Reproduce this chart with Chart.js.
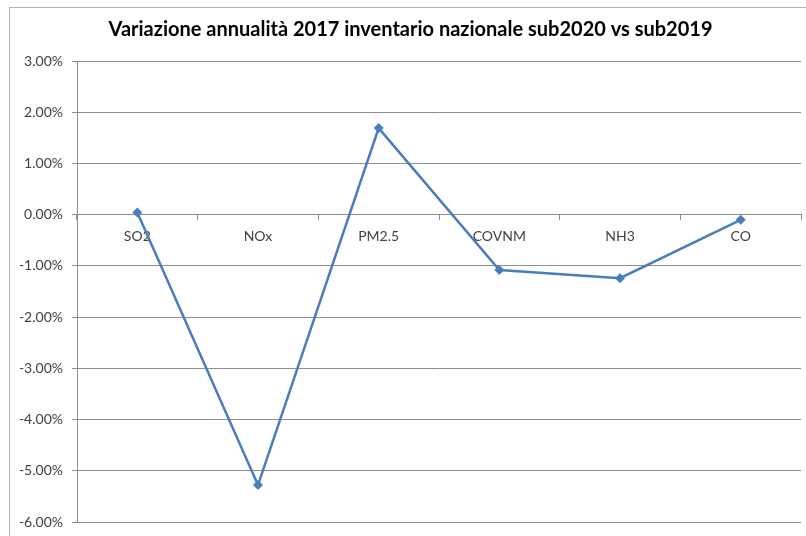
<!DOCTYPE html>
<html>
<head>
<meta charset="utf-8">
<title>Variazione annualità 2017</title>
<script src="https://cdn.jsdelivr.net/npm/chart.js@4.4.0/dist/chart.umd.min.js"></script>
<style>
  html, body { margin: 0; padding: 0; background: #fff; overflow: hidden; }
  #frame { position: absolute; left: 9px; top: 7px; width: 900px; height: 600px;
           border-left: 1px solid #b4b4b4; border-top: 1px solid #b4b4b4; }
  #myChart { position: absolute; left: 0; top: 0; }
</style>
</head>
<body>
<div id="frame"></div>
<canvas id="myChart" width="806" height="536"></canvas>
<script>
const titolo = 'Variazione annualità 2017 inventario nazionale sub2020 vs sub2019';
const inquinanti = ['SO2', 'NOx', 'PM2.5', 'COVNM', 'NH3', 'CO'];
// variazione percentuale sub2020 rispetto a sub2019
const variazione = [0.04, -5.28, 1.69, -1.08, -1.24, -0.10];
const yMin = -6;
const yMax = 3;
const yStep = 1;

const blu = '#4a7ebb';
const grigio = '#8e8e8e';
const testo = '#404040';

const ctx = document.getElementById('myChart');
new Chart(ctx, {
    type: 'line',
    data: {
        labels: inquinanti,
        datasets: [{
            label: 'Variazione',
            data: variazione,
            borderColor: blu,
            backgroundColor: blu,
            borderWidth: 2.5,
            pointStyle: 'rectRot',
            pointRadius: 5,
            pointBorderWidth: 0,
            pointBackgroundColor: blu,
            tension: 0
        }]
    },
    options: {
        responsive: false,
        animation: false,
        layout: {
            padding: { left: 18, right: 3, top: 15, bottom: 14 }
        },
        plugins: {
            legend: { display: false },
            tooltip: { enabled: false },
            title: {
                display: true,
                text: titolo,
                color: '#000',
                font: { family: 'Lato', size: 20, weight: 'bold' },
                padding: { top: 3, bottom: 19 }
            }
        },
        scales: {
            x: {
                position: { y: 0 },
                offset: true,
                grid: {
                    offset: true,
                    drawOnChartArea: false,
                    drawTicks: true,
                    tickLength: 5,
                    color: grigio
                },
                border: { color: grigio, width: 1 },
                ticks: {
                    color: testo,
                    padding: 8,
                    font: { family: 'Lato', size: 14 }
                }
            },
            y: {
                min: yMin,
                max: yMax,
                afterFit: (scale) => {
                    // larghezza fissa e niente margine extra per le etichette estreme
                    scale.width = 59;
                    scale.paddingTop = 0;
                    scale.paddingBottom = 0;
                },
                grid: {
                    color: grigio,
                    tickLength: 5
                },
                border: { color: grigio, width: 1 },
                ticks: {
                    stepSize: yStep,
                    color: testo,
                    padding: 9,
                    font: { family: 'Lato', size: 14 },
                    callback: (v) => v.toFixed(2) + '%'
                }
            }
        }
    }
});
</script>
</body>
</html>
